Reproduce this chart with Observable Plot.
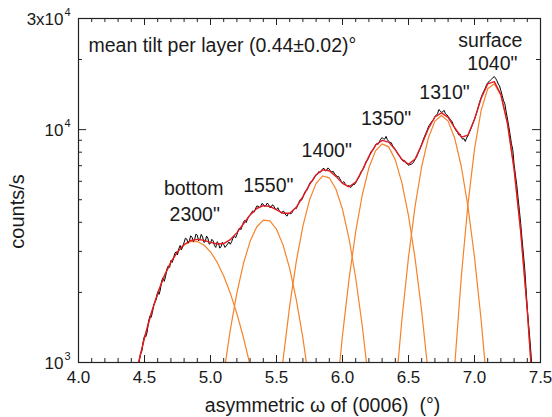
<!DOCTYPE html>
<html><head><meta charset="utf-8">
<script src="https://cdn.jsdelivr.net/npm/d3@7"></script>
<script src="https://cdn.jsdelivr.net/npm/@observablehq/plot@0.6"></script>
<style>html,body{margin:0;padding:0;background:#fff}#chart svg{display:block}</style>
</head><body><div id="chart"></div>
<script>
// ---------- data ----------
// measured intensity (counts/s), sampled every 0.01° starting at 4.46°
const dataStart = 4.46, dataStep = 0.01;
const dataCounts = [
1010,1090,1120,1230,1300,1290,1350,1490,1580,1560,
1640,1760,1820,1870,2010,1960,2050,2240,2310,2230,
2350,2520,2600,2560,2740,2690,2800,2950,2990,2900,
3080,3180,3050,3150,3280,3420,3390,3250,3330,3500,
3450,3310,3380,3560,3520,3330,3390,3550,3460,3280,
3300,3490,3420,3220,3250,3380,3330,3180,3120,3300,
3260,3100,3140,3280,3210,3120,3170,3230,3290,3220,
3300,3420,3480,3430,3540,3690,3780,3720,3850,4010,
4080,3990,4120,4250,4290,4400,4480,4420,4560,4690,
4700,4620,4680,4820,4780,4680,4720,4840,4760,4620,
4650,4760,4690,4570,4540,4620,4500,4410,4380,4470,
4430,4300,4250,4380,4360,4350,4420,4540,4600,4580,
4720,4880,5010,4980,5120,5310,5450,5480,5640,5850,
5980,5990,6120,6300,6380,6420,6600,6540,6640,6790,
6820,6640,6700,6850,6760,6610,6580,6620,6450,6380,
6280,6300,6150,6000,5920,5980,5850,5750,5700,5760,
5640,5700,5820,5800,5920,6060,6180,6350,6600,6680,
6830,7080,7300,7420,7620,7900,8100,8180,8350,8600,
8720,8650,8900,9100,9250,9120,9100,9350,9050,8900,
8800,8780,8500,8380,8230,8050,7850,7720,7560,7420,
7300,7380,7180,7150,7020,7080,7100,7150,7280,7450,
7600,7850,8100,8350,8650,9000,9300,9600,9900,10250,
10500,10700,10900,11050,11400,11500,11700,12200,12050,11850,
11950,12100,11700,11600,11400,11200,10950,10850,10450,10150,
9900,9750,9500,9600,9300,9100,9150,8900,9200,9400,
9700,10000,10350,10700,11100,11500,12000,12600,13200,13700,
14200,14600,15000,15500,15900,16050,16300,16500,16700,16900,
16600,16200,15700,15400,14700,14000,13300,12900,11900,11100,
10300,9500,8700,8200,7100,6400,5800,5100,4500,3950,
3400,2950,2550,2100,1700,1450,1250,1050,860];

// total fit (red), every 0.05° from 4.45°
const fitStart = 4.45, fitStep = 0.05;
const fitCounts = [973,1277,1620,1986,2354,2696,2986,3211,3341,3378,
3347,3279,3226,3242,3367,3612,3944,4304,4585,4716,
4676,4521,4371,4375,4637,5156,5806,6400,6716,6656,
6298,5879,5683,5951,6686,7677,8563,8993,8833,8185,
7450,7102,7484,8602,10085,11331,11792,11289,10184,9285,
9454,11073,13601,15720,16066,14142,10614,6765,3653,1673,649];

// individual layer components (orange), every 0.05°
const compStep = 0.05;
const comp1Start = 4.40, comp1 = [717,973,1277,1620,1986,2354,2696,2986,3196,3306,3306,3196,2986,2696,2354,1986,1620,1277,973,717];
const comp2Start = 5.05, comp2 = [530,888,1381,1992,2667,3313,3819,4085,4055,3735,3192,2531,1862,1272,806];
const comp3Start = 5.50, comp3 = [552,1029,1751,2720,3854,4982,5876,6324,6209,5562,4546,3390,2306,1431,811];
const comp4Start = 5.95, comp4 = [675,1307,2293,3645,5251,6853,8104,8683,8430,7415,5910,4269,2794,1657,890];
const comp5Start = 6.35, comp5 = [318,737,1528,2833,4690,6944,9190,10873,11500,10873,9190,6944,4690,2833,1528,737,318];
const comp6Start = 6.80, comp6 = [340,967,2332,4764,8240,12073,14983,15748,14019,10572,6751,3653,1673,649];

const compNames = ["bottom", "", "", "", "", "surface"];
const compFWHM = ['2300"', '1550"', '1400"', '1350"', '1310"', '1040"'];

// axes
const xMajor = [4.0, 4.5, 5.0, 5.5, 6.0, 6.5, 7.0, 7.5];
const xTickLabels = ["4.0", "4.5", "5.0", "5.5", "6.0", "6.5", "7.0", "7.5"];
const xMinor = [4.1,4.2,4.3,4.4,4.6,4.7,4.8,4.9,5.1,5.2,5.3,5.4,5.6,5.7,5.8,5.9,6.1,6.2,6.3,6.4,6.6,6.7,6.8,6.9,7.1,7.2,7.3,7.4];
const yMajor = [1000, 10000, 30000];
const yLabelBase = ["10", "10", "3x10"];
const yLabelExp = ["3", "4", "4"];
const yMinor = [2000,3000,4000,5000,6000,7000,8000,9000,20000];

const xTitle = "asymmetric \u03c9 of (0006)\u00a0 (\u00b0)";
const yTitle = "counts/s";
const note = "mean tilt per layer (0.44\u00b10.02)\u00b0";

// ---------- build ----------
const series = (x0, step, vals) => vals.map((v, i) => ({x: +(x0 + i * step).toFixed(4), y: v}));
const dataPts = series(dataStart, dataStep, dataCounts);
const fitPts = series(fitStart, fitStep, fitCounts);
const comps = [[comp1Start, comp1], [comp2Start, comp2], [comp3Start, comp3], [comp4Start, comp4], [comp5Start, comp5], [comp6Start, comp6]]
  .map(([s, v]) => series(s, compStep, v));

const W = 552, H = 417, mL = 78, mR = 12, mT = 18, mB = 55;
const iW = W - mL - mR, iH = H - mT - mB;
const FONT = '"Liberation Sans", Arial, Helvetica, sans-serif';
const ORANGE = "#f6832a", RED = "#e11b22", AX = "#222", TXT = "#1a1a1a";

// label offsets (px) relative to each component maximum
const fwhmDx = [4, 5, 4, 4, 3, -2], fwhmDy = [-27, -34, -25, -25, -23, -20];
const nameDx = [3, 0, 0, 0, 0, -4], nameDy = [-53, 0, 0, 0, 0, -43];

const labelMarks = [];
comps.forEach((c, i) => {
  const peak = c.reduce((a, b) => (b.y > a.y ? b : a));
  labelMarks.push(Plot.text([peak], {x: "x", y: "y", text: () => compFWHM[i], dx: fwhmDx[i], dy: fwhmDy[i],
    fontSize: 19.5, textAnchor: "middle", lineAnchor: "middle", fill: TXT}));
  if (compNames[i]) labelMarks.push(Plot.text([peak], {x: "x", y: "y", text: () => compNames[i], dx: nameDx[i], dy: nameDy[i],
    fontSize: 19.5, textAnchor: "middle", lineAnchor: "middle", fill: TXT}));
});

const chart = Plot.plot({
  width: W, height: H,
  marginLeft: mL, marginRight: mR, marginTop: mT, marginBottom: mB,
  style: {fontFamily: FONT, background: "#fff", color: TXT},
  x: {domain: [4, 7.5], axis: null},
  y: {type: "log", domain: [1000, 30000], axis: null},
  marks: [
    ...comps.map(c => Plot.line(c, {x: "x", y: "y", stroke: ORANGE, strokeWidth: 1.2, clip: true})),
    Plot.line(dataPts, {x: "x", y: "y", stroke: "#000", strokeWidth: 1, clip: true}),
    Plot.line(fitPts, {x: "x", y: "y", stroke: RED, strokeWidth: 1.4, clip: true}),
    // ticks (inward, on all four sides)
    Plot.tickX(xMinor, {x: d => d, insetTop: iH - 4, stroke: AX}),
    Plot.tickX(xMajor, {x: d => d, insetTop: iH - 7, stroke: AX}),
    Plot.tickX(xMinor, {x: d => d, insetBottom: iH - 4, stroke: AX}),
    Plot.tickX(xMajor, {x: d => d, insetBottom: iH - 7, stroke: AX}),
    Plot.tickY(yMinor, {y: d => d, insetRight: iW - 4, stroke: AX}),
    Plot.tickY(yMajor, {y: d => d, insetRight: iW - 8, stroke: AX}),
    Plot.tickY(yMinor, {y: d => d, insetLeft: iW - 4, stroke: AX}),
    Plot.tickY(yMajor, {y: d => d, insetLeft: iW - 8, stroke: AX}),
    Plot.frame({stroke: AX, strokeWidth: 1.2}),
    // tick labels
    Plot.text(xMajor, {x: d => d, text: (d, i) => xTickLabels[i], frameAnchor: "bottom", dy: 15,
      fontSize: 17, textAnchor: "middle", lineAnchor: "middle", fill: TXT}),
    Plot.text(yMajor, {y: d => d, text: (d, i) => yLabelBase[i], frameAnchor: "left", dx: -15, dy: 1,
      fontSize: 17, textAnchor: "end", lineAnchor: "middle", fill: TXT}),
    Plot.text(yMajor, {y: d => d, text: (d, i) => yLabelExp[i], frameAnchor: "left", dx: -14, dy: -6,
      fontSize: 11, textAnchor: "start", lineAnchor: "middle", fill: TXT}),
    // axis titles
    Plot.text([xTitle], {text: d => d, frameAnchor: "bottom", dx: 13, dy: 43, fontSize: 19.5,
      textAnchor: "middle", lineAnchor: "middle", fill: TXT}),
    Plot.text([yTitle], {text: d => d, frameAnchor: "left", dx: -61, dy: 21, rotate: -90, fontSize: 20,
      textAnchor: "middle", lineAnchor: "middle", fill: TXT}),
    Plot.text([note], {text: d => d, frameAnchor: "top-left", dx: 10, dy: 27, fontSize: 19.5,
      textAnchor: "start", lineAnchor: "middle", fill: TXT}),
    ...labelMarks
  ]
});
document.getElementById("chart").appendChild(chart);
</script>
</body></html>
